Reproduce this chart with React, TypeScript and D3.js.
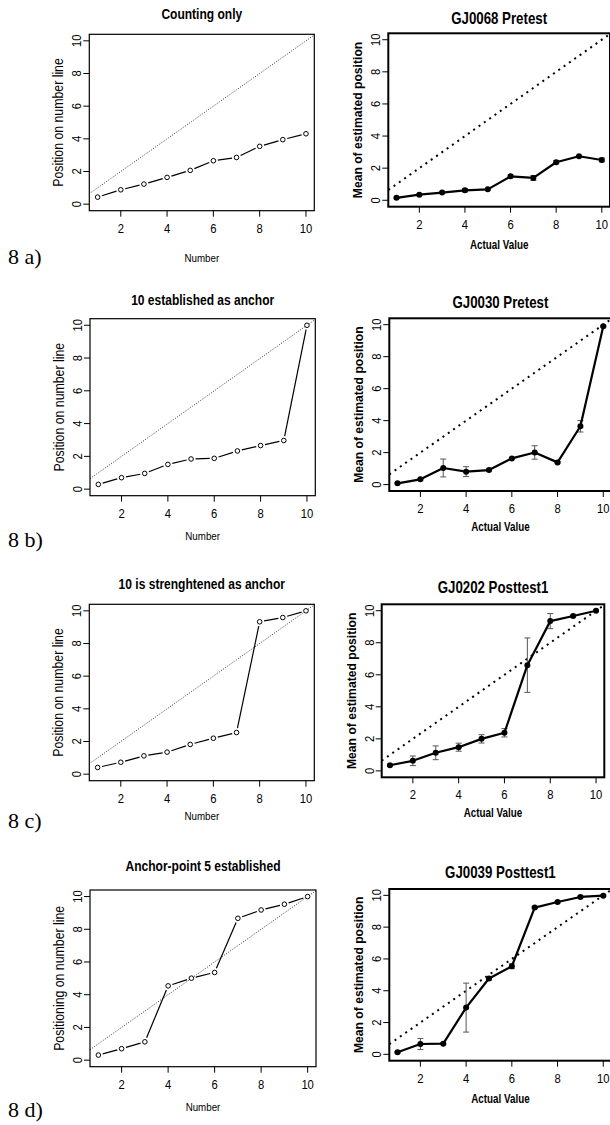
import React from 'react';
import * as d3 from 'd3';

// ---------- DATA ----------
const xValues = [1, 2, 3, 4, 5, 6, 7, 8, 9, 10];
const xTicks = [2, 4, 6, 8, 10];
const yTicks = [0, 2, 4, 6, 8, 10];

const leftTitles = ['Counting only', '10 established as anchor', '10 is strenghtened as anchor', 'Anchor-point 5 established'];
const leftYLabels = ['Position on number line', 'Position on number line', 'Position on number line', 'Positioning on number line'];
const leftXLabel = 'Number';
const rightTitles = ['GJ0068 Pretest', 'GJ0030 Pretest', 'GJ0202 Posttest1', 'GJ0039 Posttest1'];
const rightYLabel = 'Mean of estimated position';
const rightXLabel = 'Actual Value';
const rowLabels = ['8 a)', '8 b)', '8 c)', '8 d)'];

const countingOnly = [0.43, 0.88, 1.23, 1.64, 2.07, 2.66, 2.86, 3.54, 3.95, 4.31];
const established10 = [0.29, 0.70, 0.96, 1.51, 1.84, 1.88, 2.33, 2.66, 2.97, 10.0];
const strengthened10 = [0.41, 0.73, 1.12, 1.35, 1.82, 2.2, 2.55, 9.33, 9.59, 10.0];
const anchor5 = [0.31, 0.70, 1.12, 4.54, 5.01, 5.36, 8.67, 9.18, 9.53, 10.0];

const gj0068Mean = [0.15, 0.35, 0.48, 0.62, 0.68, 1.49, 1.39, 2.37, 2.74, 2.51];
const gj0068Err = [0.05, 0.05, 0.05, 0.1, 0.05, 0.08, 0.15, 0.1, 0.05, 0.12];
const gj0030Mean = [0.08, 0.33, 1.04, 0.81, 0.91, 1.64, 2.01, 1.39, 3.65, 9.9];
const gj0030Err = [0.05, 0.05, 0.56, 0.31, 0.05, 0.05, 0.42, 0.05, 0.36, 0.05];
const gj0202Mean = [0.35, 0.63, 1.13, 1.48, 2.0, 2.38, 6.6, 9.35, 9.67, 10.0];
const gj0202Err = [0.05, 0.3, 0.43, 0.25, 0.26, 0.26, 1.7, 0.47, 0.05, 0.05];
const gj0039Mean = [0.13, 0.65, 0.67, 2.94, 4.77, 5.54, 9.23, 9.58, 9.9, 9.98];
const gj0039Err = [0.05, 0.35, 0.05, 1.54, 0.1, 0.15, 0.05, 0.05, 0.05, 0.05];

const leftSeries = [countingOnly, established10, strengthened10, anchor5];
const rightSeries = [
  { mean: gj0068Mean, err: gj0068Err },
  { mean: gj0030Mean, err: gj0030Err },
  { mean: gj0202Mean, err: gj0202Err },
  { mean: gj0039Mean, err: gj0039Err },
];

// ---------- LAYOUT ----------
const leftLayout = [
  { x0: 89.3, x1: 314.3, y0: 34.3, y1: 210.7, titleY: 18.5, xlabY: 262, rowY: 264 },
  { x0: 90, x1: 315.3, y0: 318.7, y1: 495.7, titleY: 305, xlabY: 540, rowY: 547 },
  { x0: 89.3, x1: 314.3, y0: 604.3, y1: 780.7, titleY: 589, xlabY: 820, rowY: 828 },
  { x0: 90, x1: 316, y0: 890, y1: 1066.7, titleY: 871, xlabY: 1111, rowY: 1117 },
];
const rightLayout = [
  { x0: 388.3, x1: 610, y0: 33.3, y1: 206.7, titleY: 23.5, xlabY: 249 },
  { x0: 389.3, x1: 611.5, y0: 318.3, y1: 491, titleY: 308.3, xlabY: 531 },
  { x0: 381.7, x1: 604.3, y0: 604.3, y1: 777.3, titleY: 593.3, xlabY: 817 },
  { x0: 389.3, x1: 611.5, y0: 889, y1: 1060.7, titleY: 878.3, xlabY: 1103 },
];

const SANS = 'Liberation Sans, Arial, Helvetica, sans-serif';
const SERIF = 'Liberation Serif, Times New Roman, serif';

function CText(props: any) {
  const { x, y, rot = 0, sx = 0.85, size, bold, anchor = 'middle', children, fill = '#000', family = SANS } = props;
  return (
    <text
      transform={`translate(${x},${y}) rotate(${rot}) scale(${sx},1)`}
      fontSize={size}
      fontWeight={bold ? 'bold' : 'normal'}
      fontFamily={family}
      textAnchor={anchor}
      fill={fill}
    >
      {children}
    </text>
  );
}

function Panel(props: any) {
  const { lay, kind, title, yLabel, xLabel, values, err, id } = props;
  const x = d3.scaleLinear().domain([0.64, 10.36]).range([lay.x0, lay.x1]);
  const y = d3.scaleLinear().domain([-0.4, 10.4]).range([lay.y1, lay.y0]);
  const right = kind === 'right';
  const pts = xValues.map((v, i) => [x(v), y(values[i])]);
  const tickLen = 6;

  let lineEls: any[] = [];
  if (!right) {
    const gap = 4.5;
    for (let i = 0; i < pts.length - 1; i++) {
      const [ax, ay] = pts[i];
      const [bx, by] = pts[i + 1];
      const dx = bx - ax, dy = by - ay;
      const L = Math.hypot(dx, dy);
      if (L <= 2 * gap) continue;
      const ux = dx / L, uy = dy / L;
      lineEls.push(
        <line key={'s' + i} x1={ax + ux * gap} y1={ay + uy * gap} x2={bx - ux * gap} y2={by - uy * gap}
          stroke="#000" strokeWidth={1.2} />
      );
    }
  } else {
    const lineGen = d3.line();
    lineEls.push(<path key="ln" d={lineGen(pts as any) || ''} fill="none" stroke="#000" strokeWidth={2.2} strokeLinejoin="round" />);
  }

  const diag = d3.line()([[x(0.64), y(0.64)], [x(10.36), y(10.36)]] as any) || '';

  return (
    <g>
      <defs>
        <clipPath id={id}>
          <rect x={lay.x0} y={lay.y0} width={lay.x1 - lay.x0} height={lay.y1 - lay.y0} />
        </clipPath>
      </defs>
      <CText x={(lay.x0 + lay.x1) / 2} y={lay.titleY} size={right ? 16 : 14.5} bold sx={0.83}>{title}</CText>
      <g clipPath={`url(#${id})`}>
        <path d={diag} fill="none" stroke={right ? '#000' : '#333'}
          strokeWidth={right ? 2 : 1} strokeDasharray={right ? '2,4.5' : '1,1.6'} />
      </g>
      {right && err && xValues.map((v, i) => {
        const cx = x(v);
        const top = y(values[i] + err[i]);
        const bot = y(values[i] - err[i]);
        return (
          <g key={'e' + i} stroke="#555" strokeWidth={1}>
            <line x1={cx} x2={cx} y1={top} y2={bot} />
            <line x1={cx - 3} x2={cx + 3} y1={top} y2={top} />
            <line x1={cx - 3} x2={cx + 3} y1={bot} y2={bot} />
          </g>
        );
      })}
      {lineEls}
      {pts.map(([px, py], i) =>
        right ? (
          <circle key={'p' + i} cx={px} cy={py} r={3} fill="#000" />
        ) : (
          <circle key={'p' + i} cx={px} cy={py} r={2.3} fill="#fff" stroke="#000" strokeWidth={1} />
        )
      )}
      <rect x={lay.x0} y={lay.y0} width={lay.x1 - lay.x0} height={lay.y1 - lay.y0}
        fill="none" stroke="#000" strokeWidth={right ? 2 : 1.2} />
      {xTicks.map((t) => (
        <g key={'xt' + t}>
          <line x1={x(t)} x2={x(t)} y1={lay.y1} y2={lay.y1 + tickLen} stroke="#000" strokeWidth={1} />
          <CText x={x(t)} y={lay.y1 + 22} size={12.5} sx={0.9}>{t}</CText>
        </g>
      ))}
      {yTicks.map((t) => (
        <g key={'yt' + t}>
          <line x1={lay.x0 - tickLen} x2={lay.x0} y1={y(t)} y2={y(t)} stroke="#000" strokeWidth={1} />
          <CText x={lay.x0 - 8} y={y(t)} rot={-90} size={12.5} sx={0.9}>{t}</CText>
        </g>
      ))}
      <CText x={(lay.x0 + lay.x1) / 2} y={lay.xlabY} size={right ? 12 : 11.5} bold={right} sx={right ? 0.82 : 0.85}>{xLabel}</CText>
      <CText x={lay.x0 - 26} y={(lay.y0 + lay.y1) / 2} rot={-90} size={right ? 13.5 : 14} bold={right} sx={right ? 0.9 : 0.88}>{yLabel}</CText>
    </g>
  );
}

export default function App() {
  return (
    <svg width={610} height={1125} style={{ position: 'absolute', left: 0, top: 0, background: '#fff' }}>
      <rect x={0} y={0} width={610} height={1125} fill="#fff" />
      {leftLayout.map((lay, i) => (
        <Panel key={'L' + i} id={'clipL' + i} lay={lay} kind="left" title={leftTitles[i]} yLabel={leftYLabels[i]}
          xLabel={leftXLabel} values={leftSeries[i]} />
      ))}
      {rightLayout.map((lay, i) => (
        <Panel key={'R' + i} id={'clipR' + i} lay={lay} kind="right" title={rightTitles[i]} yLabel={rightYLabel}
          xLabel={rightXLabel} values={rightSeries[i].mean} err={rightSeries[i].err} />
      ))}
      {leftLayout.map((lay, i) => (
        <text key={'row' + i} x={8} y={lay.rowY} fontFamily={SERIF} fontSize={22} fill="#000">{rowLabels[i]}</text>
      ))}
    </svg>
  );
}
